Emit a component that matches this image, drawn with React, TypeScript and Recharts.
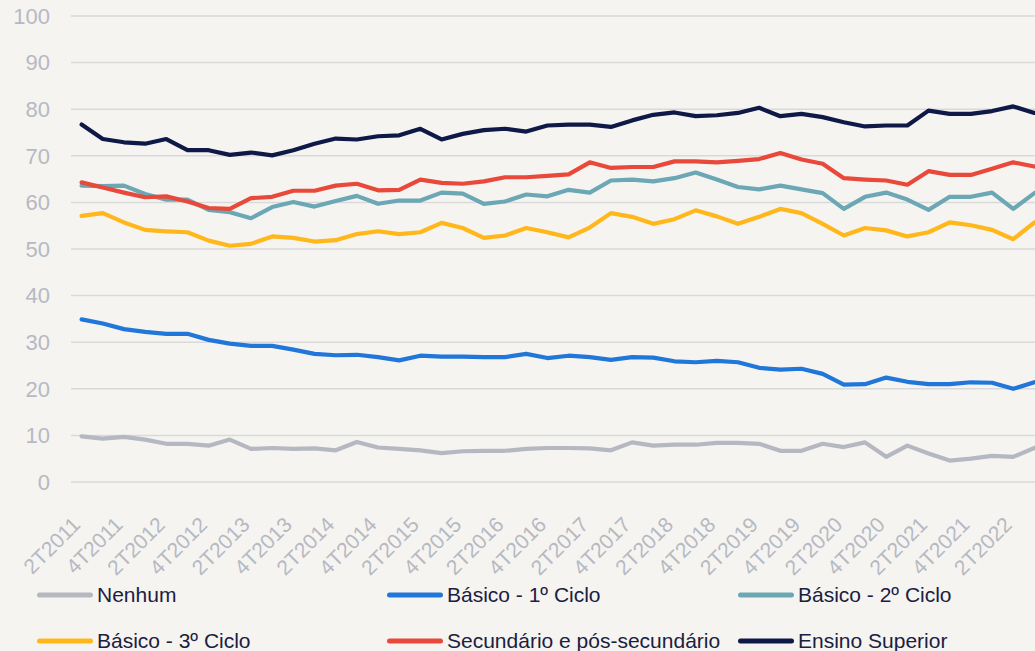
import React from "react";
import { LineChart, Line, XAxis, YAxis, CartesianGrid } from "recharts";

const quarters = [
  "2T2011", "3T2011", "4T2011",
  "1T2012", "2T2012", "3T2012", "4T2012",
  "1T2013", "2T2013", "3T2013", "4T2013",
  "1T2014", "2T2014", "3T2014", "4T2014",
  "1T2015", "2T2015", "3T2015", "4T2015",
  "1T2016", "2T2016", "3T2016", "4T2016",
  "1T2017", "2T2017", "3T2017", "4T2017",
  "1T2018", "2T2018", "3T2018", "4T2018",
  "1T2019", "2T2019", "3T2019", "4T2019",
  "1T2020", "2T2020", "3T2020", "4T2020",
  "1T2021", "2T2021", "3T2021", "4T2021",
  "1T2022", "2T2022", "3T2022",
];

const nenhum = [9.8, 9.3, 9.7, 9.1, 8.2, 8.2, 7.8, 9.1, 7.1, 7.3, 7.1, 7.2, 6.8, 8.6, 7.4, 7.1, 6.8, 6.2, 6.6, 6.7, 6.7, 7.1, 7.3, 7.3, 7.2, 6.8, 8.5, 7.8, 8.0, 8.0, 8.4, 8.4, 8.2, 6.7, 6.7, 8.2, 7.5, 8.5, 5.4, 7.8, 6.1, 4.6, 5.0, 5.6, 5.4, 7.3];
const basico1 = [34.9, 34.0, 32.8, 32.2, 31.8, 31.8, 30.5, 29.7, 29.2, 29.2, 28.4, 27.5, 27.2, 27.3, 26.8, 26.1, 27.1, 26.9, 26.9, 26.8, 26.8, 27.5, 26.6, 27.1, 26.8, 26.2, 26.8, 26.7, 25.9, 25.7, 26.0, 25.7, 24.5, 24.1, 24.3, 23.2, 20.9, 21.0, 22.4, 21.5, 21.0, 21.0, 21.4, 21.3, 20.0, 21.4];
const basico2 = [63.6, 63.5, 63.6, 61.8, 60.6, 60.6, 58.4, 57.9, 56.6, 59.0, 60.1, 59.1, 60.3, 61.4, 59.7, 60.4, 60.4, 62.1, 61.9, 59.7, 60.2, 61.7, 61.3, 62.7, 62.1, 64.7, 64.9, 64.5, 65.2, 66.4, 64.9, 63.3, 62.8, 63.6, 62.8, 62.0, 58.6, 61.2, 62.1, 60.6, 58.4, 61.2, 61.2, 62.1, 58.6, 62.0];
const basico3 = [57.1, 57.7, 55.7, 54.1, 53.8, 53.6, 51.8, 50.7, 51.1, 52.7, 52.4, 51.6, 51.9, 53.2, 53.8, 53.2, 53.6, 55.6, 54.5, 52.4, 52.9, 54.5, 53.6, 52.5, 54.6, 57.7, 56.9, 55.4, 56.4, 58.3, 57.0, 55.4, 56.9, 58.6, 57.7, 55.4, 52.9, 54.5, 54.0, 52.7, 53.6, 55.7, 55.1, 54.1, 52.1, 55.7];
const secundario = [64.3, 63.2, 62.1, 61.1, 61.3, 60.2, 58.8, 58.6, 60.9, 61.2, 62.5, 62.5, 63.6, 64.0, 62.6, 62.7, 64.9, 64.2, 64.0, 64.5, 65.4, 65.4, 65.7, 66.0, 68.6, 67.4, 67.6, 67.6, 68.8, 68.8, 68.6, 68.9, 69.3, 70.6, 69.2, 68.3, 65.2, 64.9, 64.7, 63.8, 66.7, 65.9, 65.9, 67.2, 68.6, 67.7];
const superior = [76.7, 73.6, 72.9, 72.6, 73.6, 71.2, 71.2, 70.2, 70.7, 70.1, 71.2, 72.6, 73.7, 73.5, 74.2, 74.4, 75.8, 73.5, 74.7, 75.5, 75.8, 75.2, 76.5, 76.7, 76.7, 76.2, 77.6, 78.8, 79.3, 78.5, 78.7, 79.2, 80.3, 78.5, 79.0, 78.3, 77.2, 76.3, 76.5, 76.5, 79.7, 79.0, 79.0, 79.6, 80.6, 79.2];

const yTicks = [0, 10, 20, 30, 40, 50, 60, 70, 80, 90, 100];

const series = [
  { key: "nenhum", name: "Nenhum", color: "#b5b8c0", values: nenhum },
  { key: "basico1", name: "Básico - 1º Ciclo", color: "#2176d9", values: basico1 },
  { key: "basico2", name: "Básico - 2º Ciclo", color: "#6ba7b4", values: basico2 },
  { key: "basico3", name: "Básico - 3º Ciclo", color: "#ffb71b", values: basico3 },
  { key: "secundario", name: "Secundário e pós-secundário", color: "#e8493a", values: secundario },
  { key: "superior", name: "Ensino Superior", color: "#0e1947", values: superior },
];

const data = quarters.map((q, i) => {
  const row: Record<string, string | number> = { q };
  series.forEach((s) => {
    row[s.key] = s.values[i];
  });
  return row;
});

const FONT = "'Liberation Sans', Arial, sans-serif";
const AXIS_COLOR = "#b6b9c3";

const XTick = (props: any) => {
  const { x, y, payload } = props;
  return (
    <text
      x={x}
      y={y}
      transform={`rotate(-45, ${x}, ${y})`}
      textAnchor="end"
      fill={AXIS_COLOR}
      fontSize={21}
      fontFamily={FONT}
    >
      {payload.value}
    </text>
  );
};

const legendCols = [37, 387, 738];
const legendRows = [595, 641];

export default function App() {
  return (
    <div
      style={{
        position: "fixed",
        left: 0,
        top: 0,
        width: 1035,
        height: 651,
        overflow: "hidden",
        background: "#f5f4f0",
      }}
    >
      <LineChart
        width={1045}
        height={651}
        data={data}
        margin={{ top: 16, right: 0, bottom: 69, left: 0 }}
      >
        <CartesianGrid vertical={false} stroke="#d9d9d9" strokeWidth={1.5} />
        <XAxis
          dataKey="q"
          interval={1}
          axisLine={false}
          tickLine={false}
          tickSize={0}
          tickMargin={44}
          height={100}
          padding={{ left: 10.6, right: 10.6 }}
          tick={<XTick />}
        />
        <YAxis
          domain={[0, 100]}
          ticks={yTicks}
          width={71}
          axisLine={false}
          tickLine={false}
          tickSize={0}
          tickMargin={21}
          tick={{ fill: AXIS_COLOR, fontSize: 22, fontFamily: FONT }}
        />
        {series.map((s) => (
          <Line
            key={s.key}
            dataKey={s.key}
            name={s.name}
            stroke={s.color}
            strokeWidth={4.2}
            strokeLinecap="round"
            strokeLinejoin="round"
            dot={false}
            activeDot={false}
            isAnimationActive={false}
          />
        ))}
      </LineChart>
      {series.map((s, i) => {
        const left = legendCols[i % 3];
        const cy = legendRows[Math.floor(i / 3)];
        return (
          <div
            key={s.key}
            style={{
              position: "absolute",
              left,
              top: cy - 14,
              height: 28,
              display: "flex",
              alignItems: "center",
              whiteSpace: "nowrap",
            }}
          >
            <svg width={60} height={28} style={{ display: "block" }}>
              <line x1={2.5} y1={14} x2={53.5} y2={14} stroke={s.color} strokeWidth={5} strokeLinecap="round" />
            </svg>
            <span style={{ fontFamily: FONT, fontSize: 21, color: "#1b2042" }}>{s.name}</span>
          </div>
        );
      })}
    </div>
  );
}
